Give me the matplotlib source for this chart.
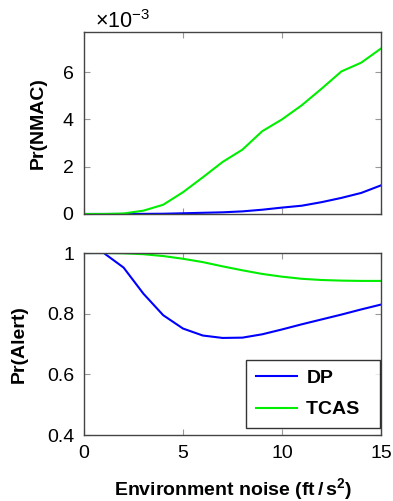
import numpy as np
import matplotlib
matplotlib.use('Agg')
import matplotlib.pyplot as plt
from matplotlib.ticker import ScalarFormatter

plt.rcParams['font.family'] = ['Liberation Sans', 'DejaVu Sans']
plt.rcParams['mathtext.fontset'] = 'custom'
plt.rcParams['mathtext.rm'] = 'Liberation Sans'
plt.rcParams['mathtext.bf'] = 'Liberation Sans:bold'
plt.rcParams['mathtext.it'] = 'Liberation Sans:italic'

noise = [0, 1, 2, 3, 4, 5, 6, 7, 8, 9, 10, 11, 12, 13, 14, 15]

# Pr(NMAC), in units of 1e-3
dp_nmac = np.array([0, 0, 0, 0.005, 0.01, 0.03, 0.05, 0.07, 0.11, 0.18, 0.27, 0.35, 0.5, 0.68, 0.89, 1.21]) * 1e-3
tcas_nmac = np.array([0, 0, 0.02, 0.14, 0.39, 0.92, 1.55, 2.2, 2.72, 3.5, 4.0, 4.6, 5.3, 6.03, 6.4, 7.0]) * 1e-3

# Pr(Alert)
dp_alert = [1.0, 1.0, 0.952, 0.866, 0.795, 0.751, 0.728, 0.72, 0.721, 0.732, 0.748, 0.765, 0.781, 0.797, 0.814, 0.83]
tcas_alert = [1.0, 1.0, 0.999, 0.996, 0.99, 0.981, 0.97, 0.956, 0.943, 0.931, 0.922, 0.915, 0.911, 0.909, 0.908, 0.908]

blue = '#0000ff'
green = '#00ee00'
fs = 14

fig = plt.figure(figsize=(3.93, 5.01), dpi=100)
ax1 = fig.add_axes([0.2137, 0.5729, 0.7557, 0.3633])
ax2 = fig.add_axes([0.2137, 0.1317, 0.7557, 0.3633])

ax1.plot(noise, dp_nmac, color=blue, lw=1.5)
ax1.plot(noise, tcas_nmac, color=green, lw=1.5)
ax2.plot(noise, dp_alert, color=blue, lw=1.5, label='DP')
ax2.plot(noise, tcas_alert, color=green, lw=1.5, label='TCAS  ')

for ax in (ax1, ax2):
    ax.set_xlim(0, 15)
    ax.set_xticks([0, 5, 10, 15])
    ax.tick_params(direction='in', top=True, right=True, length=4,
                   color='#999999', labelsize=fs, pad=7)
    for s in ax.spines.values():
        s.set_color('#444444')
        s.set_linewidth(1.0)

ax1.set_ylim(0, 7.7e-3)
ax1.set_yticks([0, 2e-3, 4e-3, 6e-3])
fmt = ScalarFormatter(useMathText=True)
fmt.set_powerlimits((-2, 2))
ax1.yaxis.set_major_formatter(fmt)
off = ax1.yaxis.get_offset_text()
off.set_fontsize(15.5)
off.set_x(0.037)
ax1.tick_params(labelbottom=False)
ax1.set_ylabel('Pr(NMAC)', fontsize=fs, fontweight='bold', labelpad=11)

ax2.set_ylim(0.4, 1.0)
ax2.set_yticks([0.4, 0.6, 0.8, 1.0])
ax2.set_yticklabels(['0.4', '0.6', '0.8', '1'])
ax2.set_ylabel('Pr(Alert)', fontsize=fs, fontweight='bold', labelpad=14)
ax2.set_xlabel(r'Environment noise (ft$\,\mathbf{/}\,$s$^{\mathbf{2}}$)', fontsize=fs,
               fontweight='bold', labelpad=10)

leg = ax2.legend(loc='lower right', bbox_to_anchor=(0.997, 0.038),
                 prop={'weight': 'bold', 'size': fs}, frameon=True, fancybox=False,
                 edgecolor='black', handlelength=2.1, handletextpad=0.5,
                 borderpad=0.5, labelspacing=0.7, borderaxespad=0)
leg.get_frame().set_linewidth(1.0)

fig.savefig('out.png', dpi=100)
